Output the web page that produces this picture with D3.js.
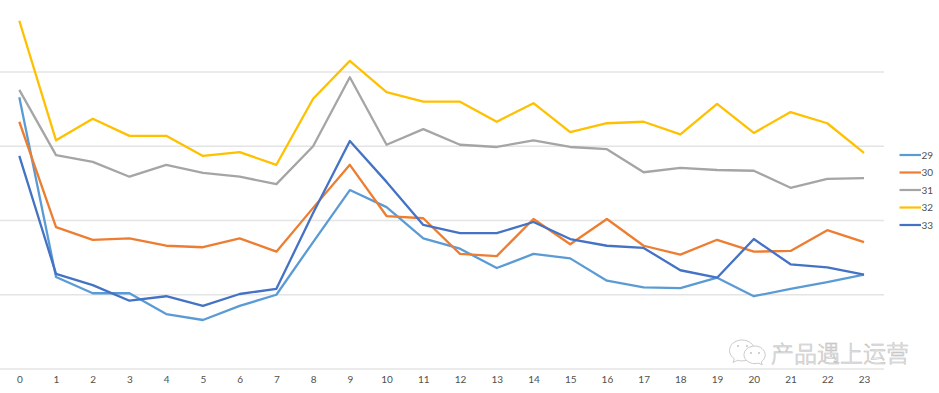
<!DOCTYPE html>
<html lang="en">

<head>
    <meta charset="UTF-8">
    <title>Chart</title>
    <script src="https://cdn.jsdelivr.net/npm/d3@7/dist/d3.min.js"></script>
    <style>
        * {
            margin: 0;
        }

        body {
            background: #fff;
            overflow: hidden;
        }

        svg {
            display: block;
        }

        text {
            font-family: Lato, "Open Sans", sans-serif;
        }
    </style>
</head>

<body>
    <div id="chart"></div>
    <script>
        // hours on the x axis
        const hours = d3.range(0, 24);
        const gridValues = [0, 10, 20, 30, 40];
        const seriesNames = ['29', '30', '31', '32', '33'];
        const seriesColors = ['#5B9BD5', '#ED7D31', '#A5A5A5', '#FFC000', '#4472C4'];

        // values, the y axis has no labels so the unit is arbitrary
        const s29 = [36.6, 12.4, 10.2, 10.2, 7.4, 6.6, 8.5, 10.0, 17.1, 24.1, 21.8, 17.6, 16.2, 13.6, 15.5, 14.9, 11.9, 11.0, 10.9, 12.3, 9.8, 10.8, 11.7, 12.7];
        const s30 = [33.3, 19.1, 17.4, 17.6, 16.6, 16.4, 17.6, 15.8, 21.7, 27.5, 20.6, 20.3, 15.5, 15.2, 20.2, 16.8, 20.2, 16.6, 15.4, 17.4, 15.8, 15.9, 18.7, 17.1];
        const s31 = [37.6, 28.8, 27.9, 25.9, 27.5, 26.4, 25.9, 24.9, 30.0, 39.3, 30.2, 32.3, 30.2, 29.9, 30.8, 29.9, 29.6, 26.5, 27.1, 26.8, 26.7, 24.4, 25.6, 25.7];
        const s32 = [46.9, 30.8, 33.7, 31.4, 31.4, 28.7, 29.2, 27.5, 36.4, 41.5, 37.3, 36.0, 36.0, 33.3, 35.8, 31.9, 33.1, 33.3, 31.6, 35.7, 31.8, 34.6, 33.1, 29.1];
        const s33 = [28.7, 12.8, 11.3, 9.2, 9.8, 8.5, 10.1, 10.8, 21.0, 30.7, 25.2, 19.4, 18.3, 18.3, 19.8, 17.5, 16.6, 16.3, 13.3, 12.3, 17.5, 14.1, 13.7, 12.7];
        const allSeries = [s29, s30, s31, s32, s33];

        const w = 939;
        const h = 393;

        const svg = d3.select('#chart').append('svg')
            .attr('width', w)
            .attr('height', h);

        const x = d3.scalePoint()
            .domain(hours)
            .range([19.3, 864]);

        const y = d3.scaleLinear()
            .domain([0, 40])
            .range([369, 72]);

        // gridlines
        svg.append('g')
            .selectAll('line')
            .data(gridValues)
            .enter()
            .append('line')
            .attr('x1', 0)
            .attr('x2', 884)
            .attr('y1', d => y(d))
            .attr('y2', d => y(d))
            .attr('stroke', '#E4E4E4')
            .attr('stroke-width', 1.5);

        // x axis, only the labels are visible
        const axis = svg.append('g')
            .attr('transform', `translate(0,${y(0)})`)
            .call(d3.axisBottom(x).tickSize(0).tickPadding(7));
        axis.select('.domain').remove();
        axis.selectAll('text')
            .attr('fill', '#505050')
            .style('font-size', '10px')
            .style('font-family', 'Lato, "Open Sans", sans-serif');

        const line = d3.line()
            .x((d, i) => x(hours[i]))
            .y(d => y(d));

        svg.append('g')
            .selectAll('path')
            .data(allSeries)
            .enter()
            .append('path')
            .attr('d', line)
            .attr('fill', 'none')
            .attr('stroke', (d, i) => seriesColors[i])
            .attr('stroke-width', 2.3)
            .attr('stroke-linejoin', 'round');

        // legend
        const legendY = d3.scalePoint()
            .domain(seriesNames)
            .range([155, 225]);

        const legend = svg.append('g')
            .selectAll('g')
            .data(seriesNames)
            .enter()
            .append('g')
            .attr('transform', d => `translate(899.5,${legendY(d)})`);

        legend.append('line')
            .attr('x1', 0)
            .attr('x2', 21.5)
            .attr('stroke', (d, i) => seriesColors[i])
            .attr('stroke-width', 2.2);

        legend.append('text')
            .attr('x', 22)
            .attr('dy', '0.35em')
            .attr('fill', '#505050')
            .style('font-size', '10px')
            .text(d => d);

        // watermark: two chat bubbles and the account name
        const mark = svg.append('g')
            .attr('fill', '#fff')
            .attr('stroke', '#C4C4C4')
            .attr('stroke-width', 0.9);

        mark.append('path')
            .attr('d', 'M742 340c-7 0-12.5 4.6-12.5 10.5 0 3.4 1.9 6.3 4.8 8.3l-1.1 3.7 4.2-2.2c1.5.4 3 .6 4.6.6 7 0 12.5-4.6 12.5-10.4S749 340 742 340z');
        mark.append('path')
            .attr('d', 'M755 346c-6.2 0-11 3.9-11 8.8s4.8 8.8 11 8.8c1.3 0 2.6-.2 3.8-.5l3.4 1.9-.9-3.2c2.4-1.6 3.9-4.2 3.9-7 0-4.9-4.9-8.8-10.2-8.8z');

        svg.selectAll('.eye')
            .data([[738, 346], [747, 346], [751, 353], [759, 353]])
            .enter()
            .append('circle')
            .attr('cx', d => d[0])
            .attr('cy', d => d[1])
            .attr('r', 0.9)
            .attr('fill', '#BDBDBD');

        svg.append('text')
            .attr('x', 771)
            .attr('y', 362)
            .attr('fill', '#fff')
            .attr('stroke', '#BDBDBD')
            .attr('stroke-width', 0.6)
            .style('font-family', '"Noto Sans CJK SC"')
            .style('font-size', '23px')
            .style('font-weight', 300)
            .text('产品遇上运营');
    </script>
</body>

</html>
